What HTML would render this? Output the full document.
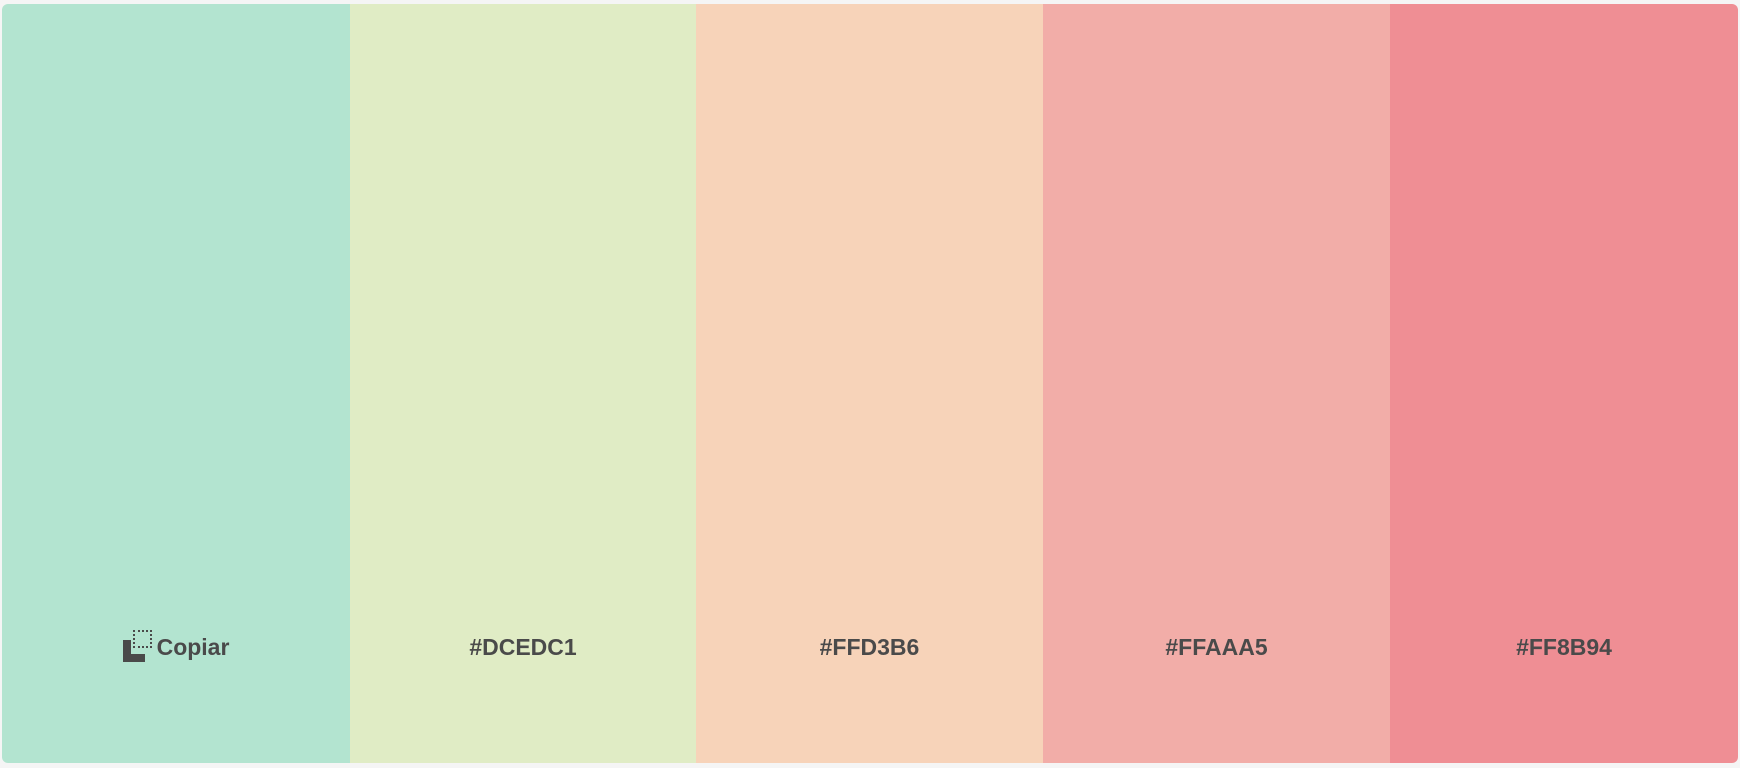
<!DOCTYPE html>
<html><head><meta charset="utf-8"><style>
html,body{margin:0;padding:0;width:1740px;height:768px;background:#f5f5f5;overflow:hidden}
#panel{position:absolute;left:2px;top:4px;width:1736px;height:759px;border-radius:6px;overflow:hidden;display:flex}
.sw{position:relative;height:100%}
.lbl{position:absolute;left:0;right:0;top:626px;text-align:center;font:bold 23px "Liberation Sans",sans-serif;color:#4a4a4a;line-height:34px}
.icon{display:inline-block;position:relative;width:32px;height:32px;vertical-align:-7px;margin-right:2px}
</style></head><body>
<div id="panel">
 <div class="sw" style="width:348px;background:#b3e4d0">
  <div class="lbl"><span class="icon"><span style="position:absolute;left:0;top:10px;width:8px;height:22px;background:#4a4a4a"></span><span style="position:absolute;left:0;top:24px;width:22px;height:8px;background:#4a4a4a"></span><span style="position:absolute;left:10px;top:0;width:19px;height:18px;border:2px dotted #4a4a4a;box-sizing:border-box"></span></span>Copiar</div>
 </div>
 <div class="sw" style="width:346px;background:#e0ecc5"><div class="lbl">#DCEDC1</div></div>
 <div class="sw" style="width:347px;background:#f7d3b9"><div class="lbl">#FFD3B6</div></div>
 <div class="sw" style="width:347px;background:#f2ada8"><div class="lbl">#FFAAA5</div></div>
 <div class="sw" style="width:348px;background:#ef8e94"><div class="lbl">#FF8B94</div></div>
</div>
</body></html>
